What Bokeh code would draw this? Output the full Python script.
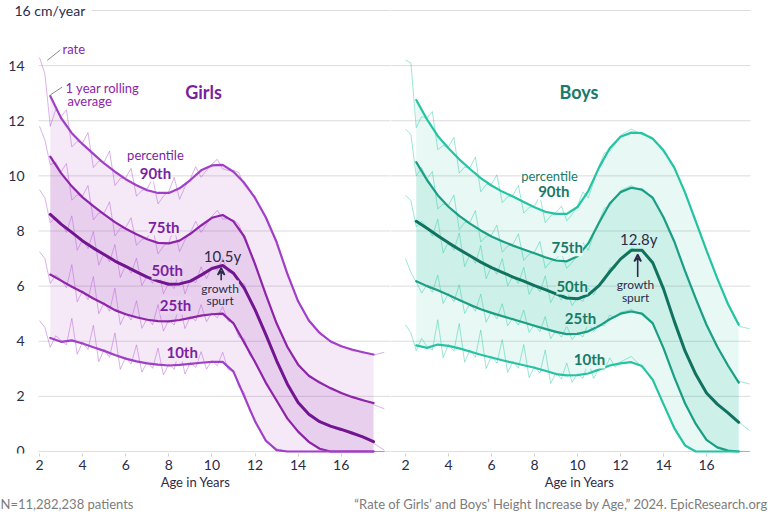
from bokeh.plotting import figure
from bokeh.models import Label, Arrow, VeeHead, FixedTicker
from bokeh.layouts import row, column
from bokeh.core.properties import value
from bokeh.embed import file_html
from bokeh.resources import INLINE

# ---------------- data ----------------
AGES = [2.5, 3.0, 3.5, 4.0, 4.5, 5.0, 5.5, 6.0, 6.5, 7.0, 7.5, 8.0, 8.5, 9.0, 9.5, 10.0,
        10.5, 11.0, 11.5, 12.0, 12.5, 13.0, 13.5, 14.0, 14.5, 15.0, 15.5, 16.0, 16.5, 17.0, 17.5]

AGES_RAW = [2.0, 2.25, 2.5, 2.75, 3.0, 3.25, 3.5, 3.75, 4.0, 4.25, 4.5, 4.75, 5.0, 5.25, 5.5, 5.75,
            6.0, 6.25, 6.5, 6.75, 7.0, 7.25, 7.5, 7.75, 8.0, 8.25, 8.5, 8.75, 9.0, 9.25, 9.5, 9.75,
            10.0, 10.25, 10.5, 10.75, 11.0, 11.25, 11.5, 11.75, 12.0, 12.5, 13.0, 13.5, 14.0, 14.5,
            15.0, 15.5, 16.0, 16.5, 17.0, 17.5, 18.0]

# 1 year rolling average (cm/year)
GIRLS_P90 = [12.9, 12.1, 11.55, 11.15, 10.8, 10.45, 10.15, 9.88, 9.66, 9.48, 9.38, 9.38, 9.55, 9.85, 10.2, 10.38,
             10.4, 10.15, 9.75, 9.2, 8.5, 7.6, 6.45, 5.45, 4.75, 4.3, 4.0, 3.82, 3.7, 3.6, 3.52]
GIRLS_P75 = [10.7, 10.1, 9.62, 9.22, 8.9, 8.6, 8.32, 8.08, 7.88, 7.7, 7.57, 7.55, 7.65, 7.9, 8.2, 8.48,
             8.58, 8.35, 7.8, 6.8, 5.7, 4.65, 3.8, 3.15, 2.75, 2.5, 2.3, 2.12, 1.98, 1.86, 1.76]
GIRLS_P50 = [8.6, 8.25, 7.95, 7.64, 7.38, 7.15, 6.91, 6.72, 6.52, 6.33, 6.18, 6.07, 6.08, 6.18, 6.4, 6.64,
             6.75, 6.47, 5.93, 5.15, 4.25, 3.3, 2.45, 1.78, 1.35, 1.08, 0.92, 0.8, 0.67, 0.53, 0.36]
GIRLS_P25 = [6.42, 6.2, 5.98, 5.78, 5.55, 5.35, 5.13, 4.98, 4.87, 4.78, 4.73, 4.72, 4.77, 4.85, 4.93, 4.98,
             5.0, 4.65, 3.95, 3.25, 2.5, 1.85, 1.2, 0.72, 0.35, 0.1, 0.0, 0.0, 0.0, 0.0, 0.0]
GIRLS_P10 = [4.12, 3.98, 4.03, 3.92, 3.78, 3.65, 3.5, 3.37, 3.27, 3.2, 3.15, 3.12, 3.14, 3.18, 3.22, 3.25,
             3.25, 2.9, 2.0, 1.1, 0.4, 0.05, 0.0, 0.0, 0.0, 0.0, 0.0, 0.0, 0.0, 0.0, 0.0]

BOYS_P90 = [12.75, 12.05, 11.45, 11.0, 10.6, 10.25, 9.92, 9.65, 9.43, 9.25, 9.05, 8.86, 8.7, 8.62, 8.62, 8.87,
            9.45, 10.3, 11.0, 11.42, 11.57, 11.55, 11.35, 10.93, 10.3, 9.4, 8.35, 7.3, 6.28, 5.35, 4.6]
BOYS_P75 = [10.5, 9.85, 9.3, 8.88, 8.55, 8.27, 8.02, 7.8, 7.63, 7.47, 7.33, 7.19, 7.05, 6.93, 6.9, 7.08,
            7.55, 8.3, 9.0, 9.41, 9.57, 9.5, 9.2, 8.5, 7.62, 6.55, 5.55, 4.6, 3.8, 3.12, 2.5]
BOYS_P50 = [8.35, 8.1, 7.83, 7.57, 7.33, 7.1, 6.87, 6.67, 6.5, 6.33, 6.18, 6.02, 5.87, 5.72, 5.57, 5.54,
            5.68, 6.02, 6.52, 6.98, 7.3, 7.3, 6.85, 5.9, 4.73, 3.65, 2.8, 2.12, 1.72, 1.4, 1.06]
BOYS_P25 = [6.18, 6.0, 5.85, 5.68, 5.5, 5.32, 5.16, 5.03, 4.91, 4.8, 4.68, 4.56, 4.45, 4.34, 4.26, 4.27,
            4.36, 4.55, 4.8, 5.0, 5.08, 5.0, 4.65, 3.75, 2.7, 1.75, 1.0, 0.42, 0.15, 0.03, 0.0]
BOYS_P10 = [3.85, 3.76, 3.88, 3.83, 3.74, 3.63, 3.51, 3.41, 3.31, 3.22, 3.13, 3.04, 2.93, 2.81, 2.76, 2.77,
            2.83, 2.97, 3.12, 3.2, 3.24, 3.1, 2.6, 1.72, 0.85, 0.22, 0.0, 0.0, 0.0, 0.0, 0.0]

# raw rate (cm/year)
GIRLS_RAW_P90 = [14.3, 13.7, 11.8, 12.4, 12.15, 12.4, 11.05, 11.25, 11.2, 11.57, 10.3, 10.53, 10.5, 10.9, 9.65, 9.91,
                 9.93, 10.27, 9.26, 9.47, 9.53, 9.92, 8.98, 9.27, 9.43, 9.95, 9.15, 9.6, 9.9, 10.33, 9.95, 10.2,
                 10.43, 10.6, 10.25, 10.2, 10.2, 10.12, 9.65, 9.45, 9.25, 8.45, 7.65, 6.4, 5.5, 4.7,
                 4.35, 3.95, 3.85, 3.65, 3.63, 3.5, 3.6]
GIRLS_RAW_P75 = [11.8, 11.3, 10.4, 10.5, 10.15, 10.45, 9.12, 9.31, 9.27, 9.65, 8.4, 8.65, 8.65, 9.06, 7.82, 8.1,
                 8.13, 8.48, 7.48, 7.69, 7.75, 8.13, 7.17, 7.45, 7.6, 8.09, 7.25, 7.67, 7.95, 8.35, 7.95, 8.25,
                 8.53, 8.75, 8.43, 8.45, 8.4, 8.25, 7.7, 7.3, 6.85, 5.65, 4.7, 3.75, 3.2, 2.7,
                 2.55, 2.25, 2.15, 1.95, 1.9, 1.7, 1.55]
GIRLS_RAW_P50 = [9.5, 9.2, 8.3, 8.5, 8.3, 7.95, 8.55, 7.3, 7.69, 7.36, 7.98, 6.76, 7.2, 6.88, 7.51, 6.31,
                 6.77, 6.47, 7.02, 6.02, 6.38, 6.1, 6.68, 5.72, 6.12, 5.91, 6.58, 5.72, 6.23, 6.13, 6.7, 6.27,
                 6.69, 6.57, 7.0, 6.5, 6.52, 6.13, 6.08, 5.47, 5.2, 4.2, 3.35, 2.4, 1.83, 1.3,
                 1.12, 0.88, 0.84, 0.62, 0.56, 0.3, 0.05]
GIRLS_RAW_P25 = [7.25, 7.0, 6.1, 6.4, 6.25, 5.94, 6.78, 5.43, 5.83, 5.51, 6.35, 5.0, 5.4, 5.09, 5.93, 4.6,
                 5.03, 4.77, 5.47, 4.47, 4.83, 4.6, 5.33, 4.37, 4.77, 4.59, 5.37, 4.46, 4.9, 4.74, 5.33, 4.71,
                 5.03, 4.85, 5.25, 4.73, 4.7, 4.15, 4.1, 3.5, 3.3, 2.45, 1.9, 1.15, 0.77, 0.3,
                 0.12, 0.0, 0.0, 0.0, 0.0, 0.0, 0.0]
GIRLS_RAW_P10 = [4.75, 4.5, 3.78, 4.2, 4.03, 3.87, 4.83, 3.53, 3.97, 3.7, 4.58, 3.26, 3.7, 3.42, 4.3, 2.98,
                 3.42, 3.17, 3.87, 2.88, 3.25, 3.02, 3.75, 2.78, 3.17, 2.98, 3.74, 2.81, 3.23, 3.05, 3.62, 2.99,
                 3.3, 3.11, 3.6, 2.97, 2.95, 2.35, 2.15, 1.45, 1.15, 0.35, 0.1, 0.0, 0.0, 0.0,
                 0.0, 0.0, 0.0, 0.0, 0.0, 0.0, 0.0]

BOYS_RAW_P90 = [14.2, 14.1, 11.75, 12.15, 12.1, 12.33, 10.95, 11.1, 11.05, 11.4, 10.1, 10.32, 10.3, 10.68, 9.42, 9.68,
                9.7, 10.04, 9.03, 9.24, 9.3, 9.65, 8.65, 8.85, 8.91, 9.28, 8.3, 8.55, 8.67, 8.9, 8.37, 8.6,
                8.92, 9.42, 9.2, 9.77, 10.35, 10.83, 10.9, 11.15, 11.47, 11.7, 11.5, 11.4, 10.85, 10.35,
                9.35, 8.4, 7.25, 6.33, 5.3, 4.55, 4.45]
BOYS_RAW_P75 = [11.7, 11.5, 10.0, 10.3, 9.9, 10.16, 8.8, 8.98, 8.93, 9.31, 8.05, 8.31, 8.32, 8.74, 7.6, 7.81,
                7.85, 8.21, 7.23, 7.45, 7.52, 7.9, 6.93, 7.16, 7.24, 7.62, 6.65, 6.89, 6.98, 7.2, 6.65, 6.86,
                7.13, 7.58, 7.3, 7.85, 8.35, 8.83, 8.9, 9.2, 9.46, 9.65, 9.45, 9.25, 8.45, 7.67,
                6.5, 5.6, 4.55, 3.85, 3.07, 2.55, 2.45]
BOYS_RAW_P50 = [9.3, 9.1, 8.15, 8.35, 8.15, 7.81, 8.43, 7.2, 7.62, 7.3, 7.93, 6.71, 7.15, 6.83, 7.47, 6.27,
                6.72, 6.43, 7.0, 6.01, 6.38, 6.1, 6.68, 5.7, 6.07, 5.79, 6.37, 5.4, 5.77, 5.49, 5.87, 5.29,
                5.59, 5.44, 5.93, 5.68, 6.07, 6.16, 6.67, 6.66, 7.03, 7.38, 7.25, 6.9, 5.85, 4.78,
                3.6, 2.85, 2.08, 1.76, 1.36, 1.08, 0.76]
BOYS_RAW_P25 = [7.0, 6.5, 6.15, 5.75, 6.05, 5.78, 6.4, 5.37, 5.73, 5.44, 6.05, 5.01, 5.37, 5.09, 5.71, 4.69,
                5.08, 4.82, 5.36, 4.56, 4.85, 4.59, 5.13, 4.32, 4.61, 4.35, 4.9, 4.09, 4.39, 4.15, 4.56, 4.06,
                4.32, 4.16, 4.66, 4.35, 4.6, 4.57, 4.95, 4.85, 5.05, 5.15, 4.95, 4.7, 3.7, 2.75,
                1.7, 1.05, 0.4, 0.15, 0.0, 0.0, 0.0]
BOYS_RAW_P10 = [4.6, 4.3, 3.66, 4.1, 3.81, 3.68, 4.78, 3.41, 3.88, 3.64, 4.64, 3.24, 3.68, 3.42, 4.41, 3.01,
                3.46, 3.21, 4.06, 2.87, 3.27, 3.02, 3.88, 2.68, 3.09, 2.84, 3.68, 2.47, 2.86, 2.63, 3.21, 2.51,
                2.82, 2.65, 3.28, 2.65, 3.02, 2.95, 3.4, 3.06, 3.25, 3.45, 3.05, 2.65, 1.7, 0.9,
                0.2, 0.0, 0.0, 0.0, 0.0, 0.0, 0.0]

Y_TICKS = [0, 2, 4, 6, 8, 10, 12, 14]
Y_TICK_LABELS = ["0", "2", "4", "6", "8", "10", "12", "14"]
GRID_TICKS = [0, 2, 4, 6, 8, 10, 12, 14, 16]
X_TICKS = [2, 4, 6, 8, 10, 12, 14, 16]
PERCENTILE_LABELS = ["90th", "75th", "50th", "25th", "10th"]
UNIT_LABEL = "16 cm/year"
FOOT_LEFT = "N=11,282,238 patients"
FOOT_RIGHT = "\u201cRate of Girls\u2019 and Boys\u2019 Height Increase by Age,\u201d 2024. EpicResearch.org"

# ---------------- style ----------------
FONT = "Lato"
DARK = "#2c2b4a"
GRID = "#dcdcdc"
FOOT = "#7c7c7c"

G_BASE = "#9c27b0"
G_LINE_OUT = "#a23fc8"
G_LINE_MID = "#8e24aa"
G_LINE_50 = "#711690"
G_RAW = "#b865d8"
G_TEXT = "#7b1fa2"
G_OUTER_BG = "#f5e9f7"
G_INNER_BG = "#ead3ef"

B_BASE = "#1abc9c"
B_LINE_OUT = "#24c4a2"
B_LINE_MID = "#1a9f85"
B_LINE_50 = "#11735f"
B_RAW = "#3ccfae"
B_TEXT = "#187a66"
B_OUTER_BG = "#e8f8f5"
B_INNER_BG = "#cdf0e9"

Y_RANGE = (-0.0726, 16.3628)
MAIN_H = 494


def base_figure(width, x_range):
    p = figure(width=width, height=MAIN_H, x_range=x_range, y_range=Y_RANGE,
               output_backend="svg", toolbar_location=None, y_axis_location=None,
               min_border_left=0, min_border_right=0, min_border_top=0, min_border_bottom=41)
    p.outline_line_color = None
    p.background_fill_color = "white"
    p.border_fill_color = "white"
    p.grid.visible = False

    xa = p.xaxis[0]
    xa.ticker = FixedTicker(ticks=X_TICKS)
    xa.axis_line_color = None
    xa.major_tick_line_color = "#cfcfcf"
    xa.major_tick_in = 0
    xa.major_tick_out = 3
    xa.minor_tick_line_color = None
    xa.major_label_text_font = FONT
    xa.major_label_text_font_size = "14px"
    xa.major_label_text_color = DARK
    xa.major_label_standoff = 3
    xa.axis_label = "Age in Years"
    xa.axis_label_text_font = FONT
    xa.axis_label_text_font_size = "13px"
    xa.axis_label_text_font_style = "normal"
    xa.axis_label_text_color = DARK
    xa.axis_label_standoff = 1
    return p


def draw_grid(p, x0, x1):
    n = len(GRID_TICKS)
    p.segment(x0=[x0] * n, y0=GRID_TICKS, x1=[x1] * n, y1=GRID_TICKS,
              line_color=GRID, line_width=1)


def draw_bands(p, smooth, raw, base, raw_color, line_cols):
    p90, p75, p50, p25, p10 = smooth
    p.varea(x=AGES, y1=p10, y2=p90, fill_color=base, fill_alpha=0.10)
    p.varea(x=AGES, y1=p25, y2=p75, fill_color=base, fill_alpha=0.13)
    for r in raw:
        p.line(AGES_RAW, r, line_color=raw_color, line_width=1, line_alpha=0.5, line_join="round")
    widths = [2.2, 2.2, 3.0, 2.2, 2.2]
    for s, c, w in zip(smooth, line_cols, widths):
        p.line(AGES, s, line_color=c, line_width=w, line_join="round", line_cap="round")


def add_text(p, x, y, text, size="13px", color=DARK, style="normal", bg=None, align="center", pad=0):
    kw = dict(x=x, y=y, text=text, text_font=FONT, text_font_size=size, text_color=color,
              text_font_style=style, text_align=align, text_baseline="middle")
    if bg is not None:
        kw.update(background_fill_color=bg, background_fill_alpha=1.0, padding=pad)
    p.add_layout(Label(**kw))


# ---------------- girls ----------------
left = base_figure(390, (0.19026, 18.2877))
draw_grid(left, 1.9536, 18.2877)
left.text(x=[1.304] * len(Y_TICKS), y=Y_TICKS, text=Y_TICK_LABELS, text_align="right",
          text_baseline="middle", text_font=value(FONT), text_font_size="14px", text_color=DARK)
draw_bands(left, [GIRLS_P90, GIRLS_P75, GIRLS_P50, GIRLS_P25, GIRLS_P10],
           [GIRLS_RAW_P90, GIRLS_RAW_P75, GIRLS_RAW_P50, GIRLS_RAW_P25, GIRLS_RAW_P10],
           G_BASE, G_RAW, [G_LINE_OUT, G_LINE_MID, G_LINE_50, G_LINE_MID, G_LINE_OUT])

add_text(left, 0.5615, 16, UNIT_LABEL, size="14px", align="left", bg="white", pad=6)
add_text(left, 9.61, 13.06, "Girls", size="18px", color=G_TEXT, style="bold")
add_text(left, 3.07, 14.62, "rate", color=G_LINE_MID, align="left")
add_text(left, 3.21, 13.2, "1 year rolling", color=G_LINE_MID, align="left")
add_text(left, 3.3, 12.7, "average", color=G_LINE_MID, align="left")
left.segment(x0=[2.36, 2.51], y0=[14.19, 12.94], x1=[2.97, 3.05], y1=[14.57, 13.22],
             line_color="#8a8a8a", line_width=1)
add_text(left, 7.38, 10.74, "percentile", color=G_TEXT, bg="white")
g_pos = [(7.38, 10.12, "white"), (7.77, 8.16, G_OUTER_BG), (7.93, 6.57, G_INNER_BG),
         (8.31, 5.3, G_INNER_BG), (8.62, 3.6, G_OUTER_BG)]
for (x, y, bg), t in zip(g_pos, PERCENTILE_LABELS):
    add_text(left, x, y, t, size="15px", color=G_TEXT, style="bold", bg=bg)
add_text(left, 10.49, 7.1, "10.5y", size="15px", color=DARK)
left.add_layout(Arrow(end=VeeHead(size=7, line_color=DARK, line_width=1.6, fill_color=None),
                      x_start=10.43, y_start=6.2, x_end=10.43, y_end=6.66,
                      line_color=DARK, line_width=1.6))
add_text(left, 10.38, 5.93, "growth", size="12px", color=DARK, bg=G_INNER_BG)
add_text(left, 10.38, 5.48, "spurt", size="12px", color=DARK)

# ---------------- boys ----------------
right = base_figure(378, (1.3023, 18.8837))
draw_grid(right, 1.3023, 18.047)
draw_bands(right, [BOYS_P90, BOYS_P75, BOYS_P50, BOYS_P25, BOYS_P10],
           [BOYS_RAW_P90, BOYS_RAW_P75, BOYS_RAW_P50, BOYS_RAW_P25, BOYS_RAW_P10],
           B_BASE, B_RAW, [B_LINE_OUT, B_LINE_MID, B_LINE_50, B_LINE_MID, B_LINE_OUT])

add_text(right, 10.07, 13.06, "Boys", size="18px", color=B_TEXT, style="bold")
add_text(right, 8.7, 10.01, "percentile", color=B_TEXT, bg="white")
b_pos = [(8.9, 9.45, "white"), (9.52, 7.41, B_OUTER_BG), (9.75, 6.02, B_INNER_BG),
         (10.14, 4.85, B_INNER_BG), (10.56, 3.34, B_OUTER_BG)]
for (x, y, bg), t in zip(b_pos, PERCENTILE_LABELS):
    add_text(right, x, y, t, size="15px", color=B_TEXT, style="bold", bg=bg)
add_text(right, 12.85, 7.72, "12.8y", size="15px", color=DARK)
right.add_layout(Arrow(end=VeeHead(size=7, line_color=DARK, line_width=1.6, fill_color=None),
                       x_start=12.8, y_start=6.32, x_end=12.8, y_end=7.15,
                       line_color=DARK, line_width=1.6))
add_text(right, 12.7, 6.06, "growth", size="12px", color=DARK, bg=B_INNER_BG)
add_text(right, 12.7, 5.6, "spurt", size="12px", color=DARK)

# ---------------- footer ----------------
foot = figure(width=768, height=18, x_range=(0, 768), y_range=(0, 18),
              output_backend="svg", toolbar_location=None,
              x_axis_location=None, y_axis_location=None,
              min_border_left=0, min_border_right=0, min_border_top=0, min_border_bottom=0)
foot.outline_line_color = None
foot.grid.visible = False
foot.text(x=[0, 768], y=[9, 9], text=[FOOT_LEFT, FOOT_RIGHT], text_align=["left", "right"],
          text_baseline="middle", text_font=value(FONT), text_font_size="13px", text_color=FOOT)

layout = column(row(left, right), foot)
open("out.html", "w").write(file_html(layout, INLINE))
